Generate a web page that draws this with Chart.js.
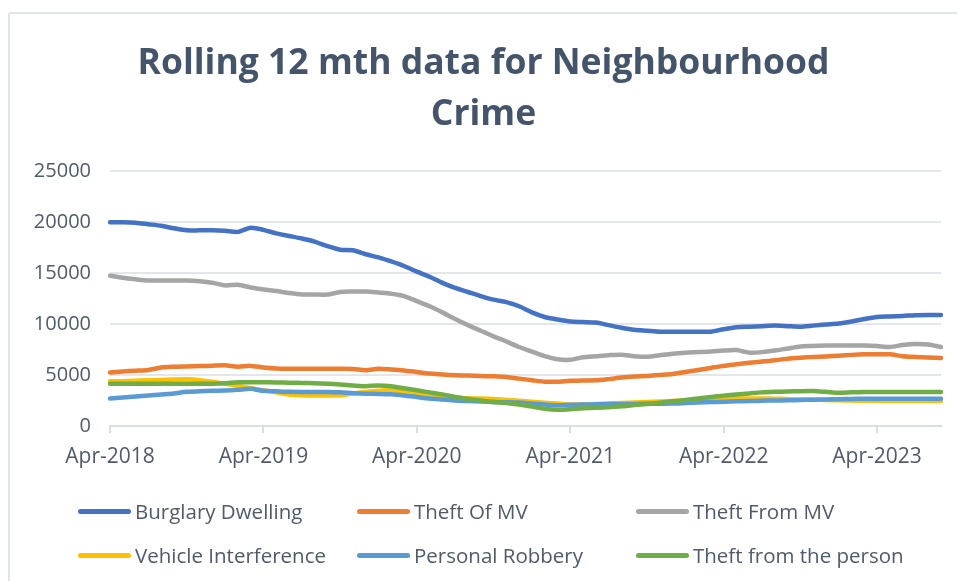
<!DOCTYPE html>
<html>
<head>
<meta charset="utf-8">
<script src="https://cdn.jsdelivr.net/npm/chart.js@4.4.0/dist/chart.umd.min.js"></script>
<style>
  html, body { margin: 0; padding: 0; background: #fff; }
  #wrap { position: relative; width: 957px; height: 581px; overflow: hidden; }
  #frame { position: absolute; left: 8px; top: 12px; width: 960px; height: 600px;
           border: 2px solid #e1e4ea; border-radius: 3px; box-sizing: border-box; }
  #grafico { position: absolute; left: 0; top: 0; }
  .leyenda { position: absolute; display: flex; align-items: center; white-space: nowrap;
             font-family: "Open Sans", sans-serif; font-size: 20.5px; color: #4f5b6b; }
  .leyenda span.linea { display: inline-block; width: 53px; height: 5px; border-radius: 3px; margin-right: 4px; }
</style>
</head>
<body>
<div id="wrap">
  <div id="frame"></div>
  <canvas id="grafico" width="957" height="581"></canvas>
  <div id="leyendas"></div>
</div>
<script>
// Meses (Apr-2018 .. Sep-2023)
var meses = [
  'Apr-2018','May-2018','Jun-2018','Jul-2018','Aug-2018','Sep-2018','Oct-2018','Nov-2018','Dec-2018','Jan-2019','Feb-2019','Mar-2019',
  'Apr-2019','May-2019','Jun-2019','Jul-2019','Aug-2019','Sep-2019','Oct-2019','Nov-2019','Dec-2019','Jan-2020','Feb-2020','Mar-2020',
  'Apr-2020','May-2020','Jun-2020','Jul-2020','Aug-2020','Sep-2020','Oct-2020','Nov-2020','Dec-2020','Jan-2021','Feb-2021','Mar-2021',
  'Apr-2021','May-2021','Jun-2021','Jul-2021','Aug-2021','Sep-2021','Oct-2021','Nov-2021','Dec-2021','Jan-2022','Feb-2022','Mar-2022',
  'Apr-2022','May-2022','Jun-2022','Jul-2022','Aug-2022','Sep-2022','Oct-2022','Nov-2022','Dec-2022','Jan-2023','Feb-2023','Mar-2023',
  'Apr-2023','May-2023','Jun-2023','Jul-2023','Aug-2023','Sep-2023'
];

var burglaryDwelling = [
  20000,20000,19950,19800,19650,19400,19200,19200,19200,19150,19050,19450,
  19250,18900,18650,18400,18100,17650,17300,17250,16850,16550,16150,15700,
  15150,14650,14050,13550,13150,12750,12400,12150,11750,11150,10700,10450,
  10250,10200,10150,9900,9650,9450,9350,9250,9250,9250,9250,9250,
  9500,9700,9750,9800,9850,9800,9750,9850,9950,10050,10250,10500,
  10700,10750,10800,10880,10900,10900
];
var theftOfMV = [
  5250,5350,5420,5500,5750,5820,5850,5880,5920,5950,5820,5900,
  5750,5650,5620,5620,5620,5620,5620,5600,5470,5620,5550,5450,
  5300,5150,5050,4980,4950,4900,4870,4800,4650,4500,4350,4350,
  4430,4470,4480,4600,4750,4850,4900,5000,5100,5300,5500,5700,
  5900,6050,6200,6320,6450,6600,6700,6780,6830,6900,6980,7030,
  7030,7030,6850,6780,6720,6680
];
var theftFromMV = [
  14750,14550,14400,14280,14280,14280,14280,14200,14050,13800,13850,13600,
  13400,13250,13050,12900,12900,12900,13150,13200,13200,13100,12980,12750,
  12250,11750,11150,10500,9900,9350,8800,8300,7750,7300,6850,6550,
  6500,6750,6850,6950,7000,6850,6800,6950,7100,7200,7250,7300,
  7400,7450,7200,7250,7400,7600,7800,7850,7900,7900,7900,7900,
  7850,7750,7950,8050,8000,7750
];
var vehicleInterference = [
  4380,4400,4450,4480,4520,4560,4580,4500,4350,4150,3950,3700,
  3500,3300,3100,3010,3000,3000,3010,3200,3340,3450,3500,3350,
  3150,3000,2880,2800,2720,2700,2650,2550,2480,2380,2280,2200,
  2100,2120,2150,2200,2250,2300,2350,2400,2450,2500,2550,2600,
  2650,2700,2700,2700,2680,2650,2600,2580,2550,2520,2500,2480,
  2470,2460,2450,2450,2450,2450
];
var personalRobbery = [
  2700,2800,2900,3000,3100,3200,3350,3400,3450,3480,3550,3650,
  3450,3400,3350,3340,3340,3340,3300,3220,3170,3150,3110,3000,
  2850,2700,2600,2500,2450,2400,2350,2330,2300,2200,2100,2030,
  2080,2100,2130,2150,2160,2170,2180,2190,2200,2250,2300,2350,
  2380,2420,2450,2480,2500,2520,2550,2580,2600,2630,2660,2680,
  2680,2680,2680,2680,2680,2680
];
var theftFromPerson = [
  4150,4150,4150,4150,4150,4150,4150,4150,4150,4200,4300,4300,
  4300,4280,4250,4230,4200,4150,4080,3980,3900,3980,3900,3700,
  3500,3300,3100,2850,2650,2500,2350,2250,2100,1900,1700,1600,
  1650,1750,1780,1850,1930,2050,2150,2280,2420,2550,2700,2850,
  2980,3100,3200,3300,3350,3380,3420,3430,3350,3260,3300,3340,
  3340,3340,3340,3340,3340,3340
];

var nombres = ['Burglary Dwelling', 'Theft Of MV', 'Theft From MV', 'Vehicle Interference', 'Personal Robbery', 'Theft from the person'];
var series = [burglaryDwelling, theftOfMV, theftFromMV, vehicleInterference, personalRobbery, theftFromPerson];
var colores = ['#4472C4', '#ED7D31', '#A5A5A5', '#FFC000', '#5B9BD5', '#70AD47'];
var ticksY = [0, 5000, 10000, 15000, 20000, 25000];

var colorTexto = '#4f5b6b';

var datasets = [];
for (var i = 0; i < series.length; i++) {
    datasets.push({
        label: nombres[i],
        data: series[i],
        borderColor: colores[i],
        backgroundColor: colores[i],
        borderWidth: 4.5,
        pointRadius: 0,
        tension: 0.25,
        borderCapStyle: 'round',
        order: series.length - i   // los ultimos encima, como en Excel
    });
}

var ctx = document.getElementById('grafico').getContext('2d');
new Chart(ctx, {
    type: 'line',
    data: { labels: meses, datasets: datasets },
    options: {
        responsive: false,
        animation: false,
        layout: { padding: { left: 26, right: 16, top: 12, bottom: 105 } },
        plugins: {
            legend: { display: false },
            tooltip: { enabled: false },
            title: {
                display: true,
                text: ['Rolling 12 mth data for Neighbourhood', 'Crime'],
                color: '#44546A',
                font: { family: 'Open Sans', size: 35.5, weight: 'bold', lineHeight: 1.44 },
                padding: { top: 26, bottom: 31 }
            }
        },
        scales: {
            x: {
                type: 'category',
                offset: false,
                grid: {
                    drawOnChartArea: false,
                    drawTicks: true,
                    tickLength: 7,
                    color: function (c) { return c.index % 12 === 0 ? '#d9dde4' : 'rgba(0,0,0,0)'; },
                    lineWidth: 2
                },
                border: { color: '#d9dde4', width: 2 },
                ticks: {
                    autoSkip: false,
                    maxRotation: 0,
                    padding: 11,
                    color: colorTexto,
                    font: { family: 'Open Sans', size: 21 },
                    callback: function (v, idx) { return idx % 12 === 0 ? meses[idx] : ''; }
                },
                afterFit: function (s) { s.height = 50; }
            },
            y: {
                min: 0,
                max: 25000,
                afterBuildTicks: function (s) { s.ticks = ticksY.map(function (v) { return { value: v }; }); },
                grid: { color: '#e3e6eb', lineWidth: 2, drawTicks: false },
                border: { display: false },
                ticks: {
                    padding: 19,
                    color: colorTexto,
                    font: { family: 'Open Sans', size: 20 },
                    callback: function (v) { return String(v); }
                },
                afterFit: function (s) { s.width = 84; }
            }
        }
    }
});

// Leyenda en 3 columnas
var cont = document.getElementById('leyendas');
var colX = [78, 357, 636];
var filaY = [511, 555];
for (var k = 0; k < nombres.length; k++) {
    var d = document.createElement('div');
    d.className = 'leyenda';
    d.style.left = colX[k % 3] + 'px';
    d.style.top = (filaY[Math.floor(k / 3)] - 14) + 'px';
    d.style.height = '28px';
    d.innerHTML = '<span class="linea" style="background:' + colores[k] + '"></span>' + nombres[k];
    cont.appendChild(d);
}
</script>
</body>
</html>
